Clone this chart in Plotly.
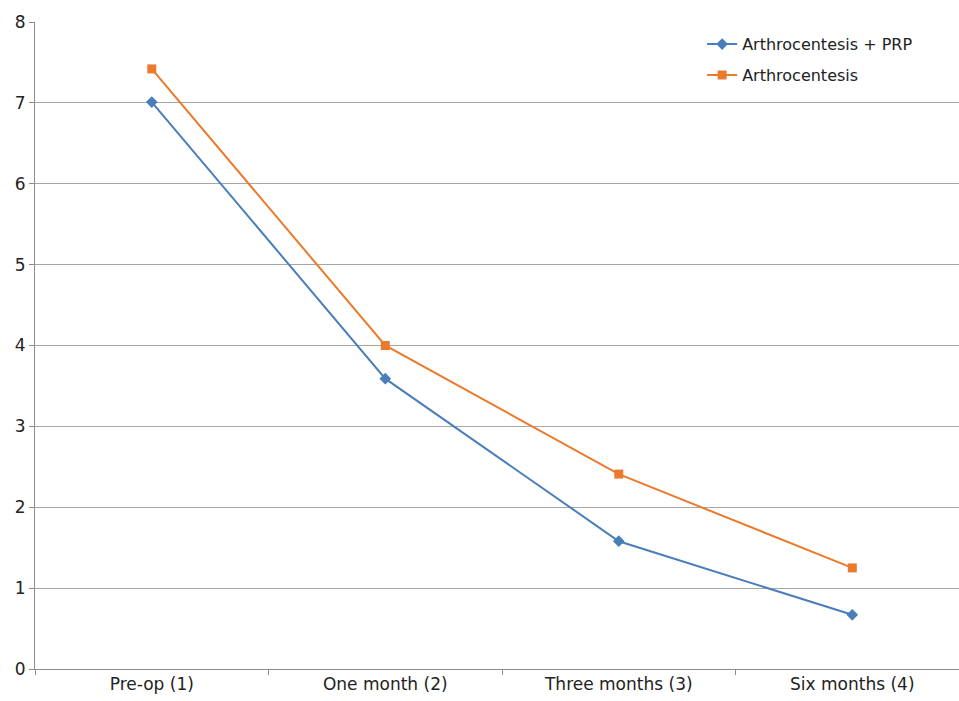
import plotly.graph_objects as go

categories = ["Pre-op (1)", "One month (2)", "Three months (3)", "Six months (4)"]
prp_values = [7.01, 3.59, 1.58, 0.67]
arthro_values = [7.42, 4.0, 2.41, 1.25]
y_ticks = [0, 1, 2, 3, 4, 5, 6, 7, 8]

blue = "#4A7EBB"
orange = "#EC7A2C"
font_family = "DejaVu Sans"

fig = go.Figure()
fig.add_trace(go.Scatter(
    x=categories, y=prp_values, mode="lines+markers", name="Arthrocentesis + PRP",
    line=dict(color=blue, width=2), marker=dict(symbol="diamond", size=9, color=blue),
    legendgroup="a",
))
fig.add_trace(go.Scatter(
    x=categories, y=arthro_values, mode="lines+markers", name="Arthrocentesis",
    line=dict(color=orange, width=2), marker=dict(symbol="square", size=9, color=orange),
    legendgroup="b",
))

fig.update_layout(
    width=959, height=701,
    margin=dict(l=35, r=0, t=22, b=32),
    paper_bgcolor="white", plot_bgcolor="white",
    font=dict(family=font_family, size=16, color="#222222"),
    showlegend=True,
    legend=dict(x=0.722, y=0.992, xanchor="left", yanchor="top",
                font=dict(size=16, color="#222222"), tracegroupgap=7,
                bgcolor="rgba(0,0,0,0)"),
    xaxis=dict(
        type="category", range=[-0.5, 3.457], showgrid=False,
        showline=True, linecolor="#8C8C8C", linewidth=1,
        ticks="outside", tickson="boundaries", ticklen=5, tickcolor="#8C8C8C",
        tickfont=dict(size=17), fixedrange=True,
    ),
    yaxis=dict(
        range=[0, 8], tickvals=y_ticks, showgrid=True, gridcolor="#A6A6A6", gridwidth=1,
        showline=True, linecolor="#8C8C8C", linewidth=1,
        ticks="outside", ticklen=5, tickcolor="#8C8C8C",
        tickfont=dict(size=17), zeroline=False,
    ),
)

fig.write_html("out.html")
